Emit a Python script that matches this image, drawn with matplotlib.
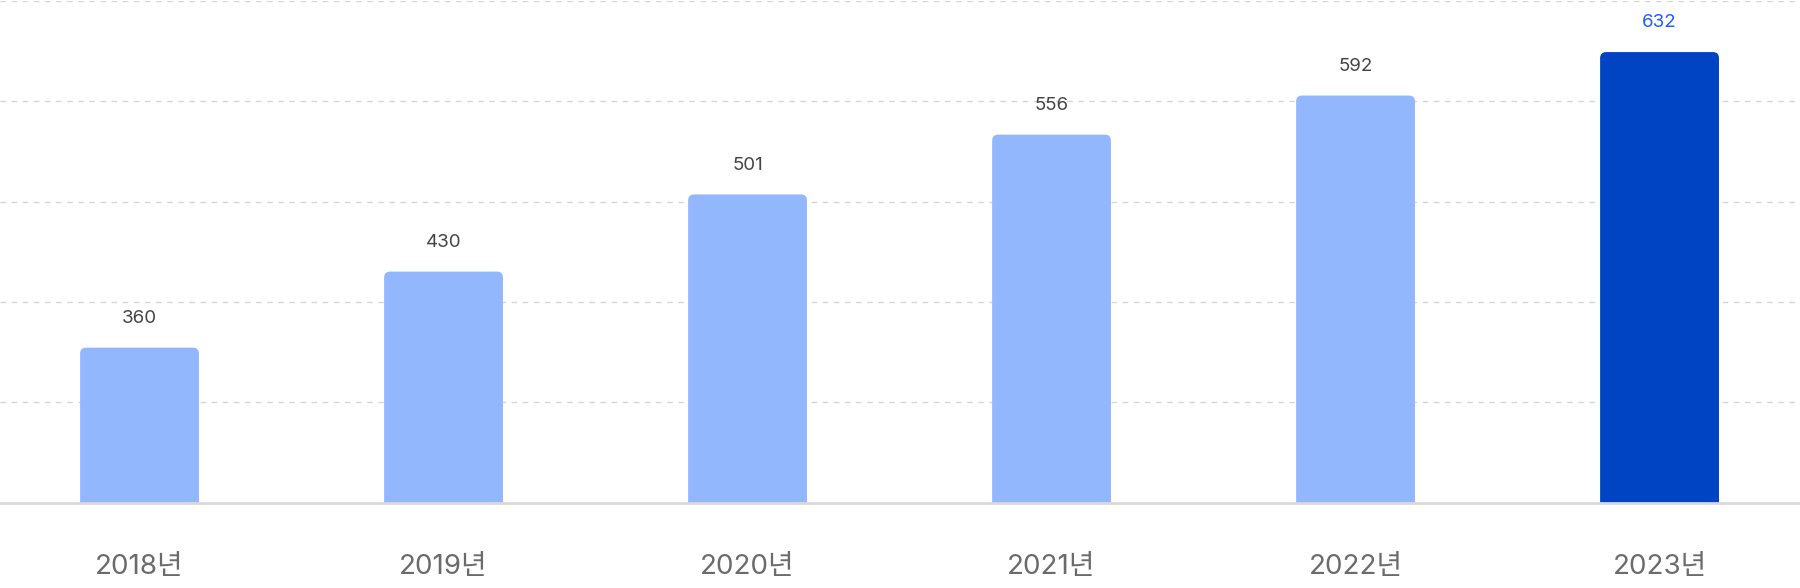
"""
연도별 막대 그래프 (마지막 해 강조)
"""
import numpy as np
import matplotlib.pyplot as plt
from matplotlib.patches import FancyBboxPatch

# 숫자는 Inter, 한글(년)은 Noto Sans CJK KR 로 대체
plt.rcParams['font.family'] = ['Inter', 'Noto Sans CJK KR', 'DejaVu Sans']

years = ['2018년', '2019년', '2020년', '2021년', '2022년', '2023년']
values = [360, 430, 501, 556, 592, 632]
highlight = [False, False, False, False, False, True]

light_color = '#93b7fd'
dark_color = '#0044c4'


def rounded_bars(ax, bars, radius_px):
    # 막대 윗부분을 둥글게 (아래쪽은 축 밖이라 잘림)
    bbox = ax.get_window_extent()
    x0, x1 = ax.get_xlim()
    y0, y1 = ax.get_ylim()
    px_x = bbox.width / (x1 - x0)
    px_y = bbox.height / (y1 - y0)
    aspect = px_x / px_y
    r = radius_px / px_x
    for bar in bars:
        x, y = bar.get_xy()
        w, h = bar.get_width(), bar.get_height()
        fb = FancyBboxPatch((x, y), w, h, boxstyle='round,pad=0,rounding_size=%f' % r,
                            mutation_aspect=aspect, facecolor=bar.get_facecolor(),
                            edgecolor='none', zorder=bar.get_zorder())
        bar.remove()
        ax.add_patch(fb)


fig = plt.figure(figsize=(18, 5.88), dpi=100)
ax = fig.add_axes([0, 0.1454, 1, 0.8529])

x = np.arange(len(years))
colors = [dark_color if hl else light_color for hl in highlight]
bars = ax.bar(x, values, width=0.391, color=colors, zorder=2)

ax.set_xlim(-0.459, 5.462)
ax.set_ylim(217.5, 679)
rounded_bars(ax, bars, 6)

# 점선 그리드
ax.set_yticks(np.linspace(217.5, 679, 6))
ax.yaxis.grid(True, color='#d6d6d6', linestyle=(0, (4, 4)), linewidth=1.0, zorder=0)
ax.axhline(217.5, color='#d9d9d9', linewidth=2, zorder=3, clip_on=False)

for i, v in enumerate(values):
    ax.annotate(str(v), (i, v), xytext=(0, 21), textcoords='offset points',
                ha='center', va='center', fontsize=13.5,
                color='#1e5cff' if highlight[i] else '#444444')

ax.set_xticks(x, years)
ax.tick_params(axis='x', length=0, pad=37, labelsize=20, labelcolor='#6b6b6b')
ax.tick_params(axis='y', length=0, labelleft=False)
for s in ax.spines.values():
    s.set_visible(False)

fig.savefig('out.png', dpi=100)
